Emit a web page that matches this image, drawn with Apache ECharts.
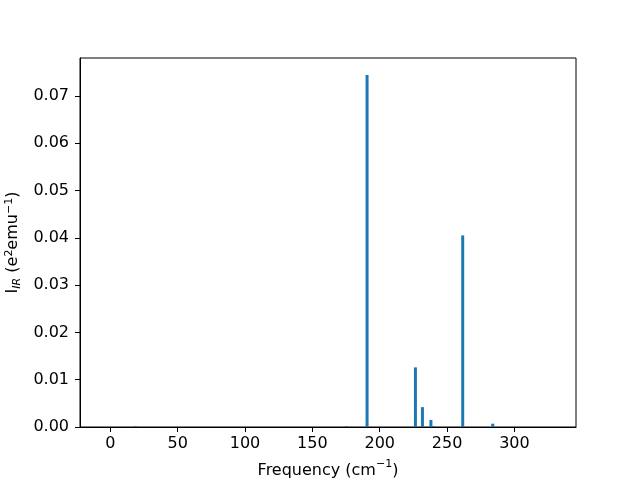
<!DOCTYPE html>
<html>
<head>
<meta charset="utf-8">
<script src="https://cdn.jsdelivr.net/npm/echarts@6/dist/echarts.min.js"></script>
<style>
  html, body { margin: 0; padding: 0; background: #fff; }
  #chart { width: 640px; height: 480px; }
</style>
</head>
<body>
<div id="chart"></div>
<script>
// IR spectrum: mode frequencies (cm^-1) and intensities (e^2 emu^-1)
const frequencies = [18.6, 175.2, 190.6, 226.5, 231.7, 238.0, 240.0, 261.6, 283.9]
const intensities = [0.0002, 0.0002, 0.0744, 0.0126, 0.0042, 0.0015, 0.0002, 0.0405, 0.0007]
const xTicks = [0, 50, 100, 150, 200, 250, 300]
const yTicks = [0, 0.01, 0.02, 0.03, 0.04, 0.05, 0.06, 0.07]

const font = 'DejaVu Sans'
const chart = echarts.init(document.getElementById('chart'))

const option = {
  animation: false,
  textStyle: { fontFamily: font },
  grid: {
    left: 80,
    right: 64,
    top: 58,
    bottom: 53,
    containLabel: false,
    outerBoundsMode: 'none',
    show: true,
    borderColor: '#000',
    borderWidth: 1,
  },
  xAxis: {
    type: 'value',
    min: -22.5,
    max: 345.7,
    name: '{t|Frequency (cm}{sup|−1}{t|)}',
    nameLocation: 'middle',
    nameGap: 32,
    nameTextStyle: {
      rich: {
        t: { fontFamily: font, fontSize: 16, color: '#000', lineHeight: 20, verticalAlign: 'bottom' },
        sup: { fontFamily: font, fontSize: 11, color: '#000', lineHeight: 20, verticalAlign: 'top', padding: [0, 0, 6, 0] },
      },
    },
    axisLine: { show: true, onZero: false, lineStyle: { color: '#000' } },
    axisTick: { show: true, length: 5, customValues: xTicks, lineStyle: { color: '#000' } },
    axisLabel: {
      customValues: xTicks,
      margin: 9,
      fontFamily: font,
      fontSize: 16,
      color: '#000',
    },
    splitLine: { show: false },
  },
  yAxis: {
    type: 'value',
    min: 0,
    max: 0.078,
    name: '{t|I}{sub|IR}{t| (e}{sup|2}{t|emu}{sup|−1}{t|)}',
    nameLocation: 'middle',
    nameGap: 53,
    nameRotate: 90,
    nameTextStyle: {
      rich: {
        t: { fontFamily: font, fontSize: 16, color: '#000', lineHeight: 22 },
        sub: { fontFamily: font, fontSize: 11, fontStyle: 'italic', color: '#000', lineHeight: 22, padding: [8, 0, 0, 0] },
        sup: { fontFamily: font, fontSize: 11, color: '#000', lineHeight: 22, padding: [0, 0, 8, 0] },
      },
    },
    axisLine: { show: true, onZero: false, lineStyle: { color: '#000' } },
    axisTick: { show: true, length: 5, customValues: yTicks, lineStyle: { color: '#000' } },
    axisLabel: {
      customValues: yTicks,
      margin: 11,
      fontFamily: font,
      fontSize: 16,
      color: '#000',
      formatter: (v) => v.toFixed(2),
    },
    splitLine: { show: false },
  },
  series: [
    {
      type: 'bar',
      barWidth: 3,
      itemStyle: { color: '#1f77b4' },
      data: frequencies.map((f, i) => [f, intensities[i]]),
    },
  ],
}

chart.setOption(option)
</script>
</body>
</html>
